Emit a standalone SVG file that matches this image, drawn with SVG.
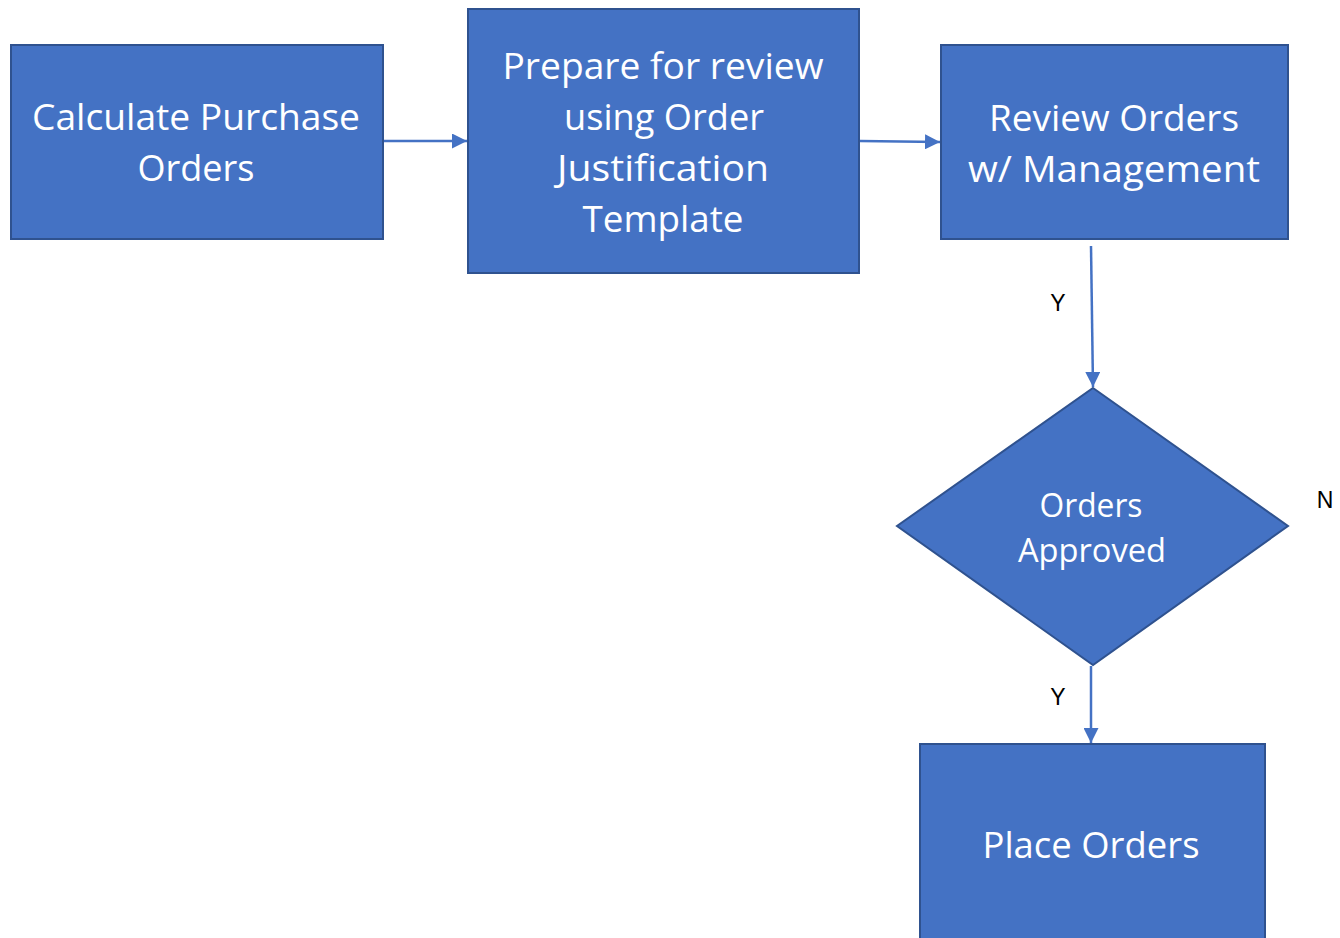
<svg xmlns="http://www.w3.org/2000/svg" width="1340" height="938" viewBox="0 0 1340 938">
  <defs>
    <style>
      .shape { fill: #4472C4; stroke: #2F528F; stroke-width: 2; }
      .label { fill: #FFFFFF; font-family: "Open Sans", "Noto Sans", sans-serif; font-size: 37px; text-anchor: middle; }
      .small { font-size: 33px; }
      .edge { stroke: #4472C4; stroke-width: 2.5; fill: none; marker-end: url(#arrow); }
      .branch { fill: #000000; font-family: "Liberation Sans", Arial, sans-serif; font-size: 23px; text-anchor: middle; }
    </style>
    <marker id="arrow" viewBox="0 0 10 10" refX="10" refY="5" markerWidth="6" markerHeight="6" markerUnits="strokeWidth" orient="auto">
      <path d="M0,0 L10,5 L0,10 Z" fill="#4472C4"/>
    </marker>
  </defs>

  <rect width="1340" height="938" fill="#FFFFFF"/>

  <!-- connectors -->
  <g id="connectors">
    <line class="edge" x1="384" y1="141" x2="467" y2="141"/>
    <line class="edge" x1="860" y1="141" x2="940" y2="142"/>
    <line class="edge" x1="1091" y1="246" x2="1093" y2="387"/>
    <line class="edge" x1="1091" y1="666" x2="1091" y2="743"/>
    <text class="branch" x="1058" y="311">Y</text>
    <text class="branch" x="1058" y="705">Y</text>
    <text class="branch" x="1325" y="508">N</text>
  </g>

  <g id="calculate-orders">
    <rect class="shape" x="11" y="45" width="372" height="194"/>
    <text class="label" x="196" y="130" textLength="328" lengthAdjust="spacingAndGlyphs">Calculate Purchase</text>
    <text class="label" x="196" y="181" textLength="117" lengthAdjust="spacingAndGlyphs">Orders</text>
  </g>

  <g id="prepare-review">
    <rect class="shape" x="468" y="9" width="391" height="264"/>
    <text class="label" x="663" y="79" textLength="321" lengthAdjust="spacingAndGlyphs">Prepare for review</text>
    <text class="label" x="664" y="130" textLength="200" lengthAdjust="spacingAndGlyphs">using Order</text>
    <text class="label" x="663" y="181" textLength="212" lengthAdjust="spacingAndGlyphs">Justification</text>
    <text class="label" x="663" y="232" textLength="161" lengthAdjust="spacingAndGlyphs">Template</text>
  </g>

  <g id="review-orders">
    <rect class="shape" x="941" y="45" width="347" height="194"/>
    <text class="label" x="1114" y="131" textLength="250" lengthAdjust="spacingAndGlyphs">Review Orders</text>
    <text class="label" x="1114" y="182" textLength="292" lengthAdjust="spacingAndGlyphs">w/ Management</text>
  </g>

  <g id="orders-approved">
    <polygon class="shape" points="1093,388 1288,526 1093,665 897,526"/>
    <text class="label small" x="1091" y="517" textLength="103" lengthAdjust="spacingAndGlyphs">Orders</text>
    <text class="label small" x="1092" y="562" textLength="148" lengthAdjust="spacingAndGlyphs">Approved</text>
  </g>

  <g id="place-orders">
    <rect class="shape" x="920" y="744" width="345" height="210"/>
    <text class="label" x="1091" y="858" textLength="217" lengthAdjust="spacingAndGlyphs">Place Orders</text>
  </g>
</svg>
